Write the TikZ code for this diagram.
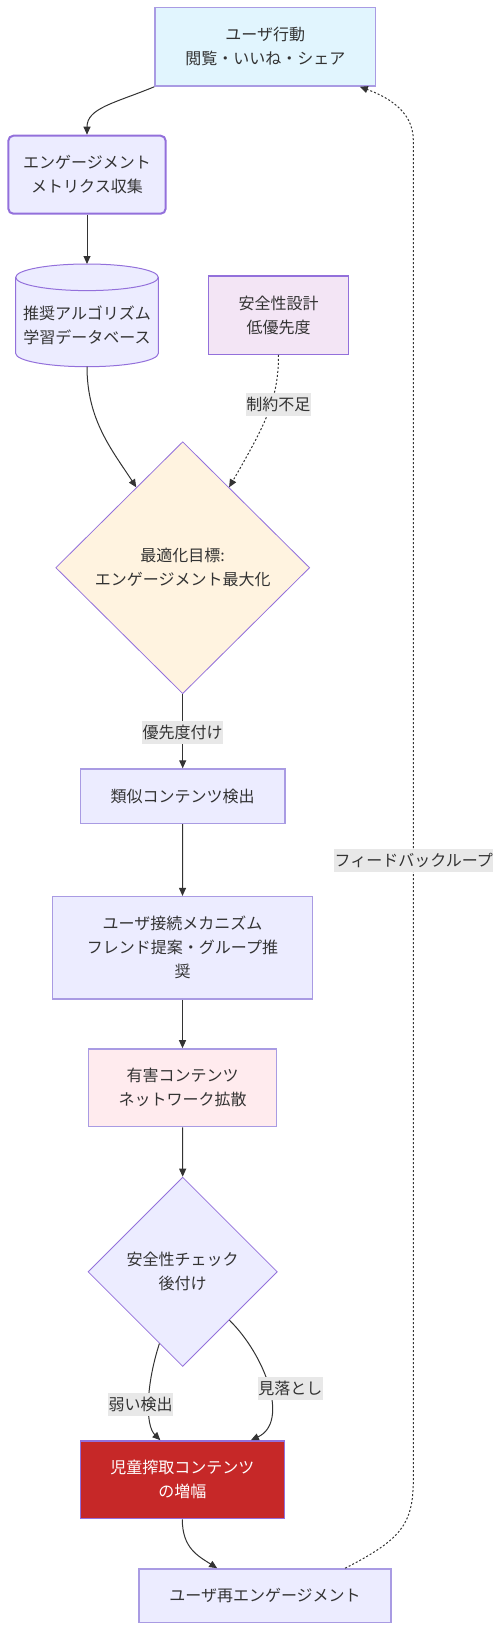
\documentclass[tikz,border=0pt]{standalone}
\usepackage{fontspec}
\setmainfont{Noto Sans CJK JP}
\usetikzlibrary{shapes.geometric,arrows.meta}
\definecolor{txt}{HTML}{333333}
\definecolor{edgec}{HTML}{333333}
\definecolor{bord}{HTML}{9370DB}
\definecolor{bordl}{HTML}{A99BE3}
\definecolor{lav}{HTML}{ECECFF}
\definecolor{cyanf}{HTML}{E1F5FE}
\definecolor{purf}{HTML}{F3E5F5}
\definecolor{orgf}{HTML}{FFF3E0}
\definecolor{pinkf}{HTML}{FFEBEE}
\definecolor{redf}{HTML}{C62828}
\definecolor{lblbg}{HTML}{E8E8E8}
\begin{document}
\begin{tikzpicture}[x=1pt,y=-1pt,
  font=\fontsize{16pt}{24pt}\selectfont,
  box/.style={rectangle, draw=bordl, line width=1.5pt, text=txt, align=center, inner sep=0pt},
  dia/.style={diamond, draw=bord, line width=0.8pt, text=txt, align=center, inner sep=0pt},
  edge/.style={draw=edgec, line width=1pt, -{Triangle[length=8pt,width=7pt]}},
  dotedge/.style={edge, dash pattern=on 2pt off 2pt},
  lbl/.style={fill=lblbg, text=txt, inner xsep=0.5pt, inner ysep=0pt, minimum height=23pt}]
\useasboundingbox (0,0) rectangle (502,1631);

% nodes
\node[box, fill=cyanf, minimum width=220.7pt, minimum height=78.7pt] (A) at (265.3,46.7) {ユーザ行動\\閲覧・いいね・シェア};
\node[box, fill=lav, draw=bord, line width=2pt, rounded corners=5pt, minimum width=157.3pt, minimum height=78pt] (B) at (87,174.7) {エンゲージメント\\メトリクス収集};

% cylinder
\fill[lav] (15.7,277.3) -- (15.7,353.4) arc (180:360:71.3pt and 13.3pt) -- (158.3,277.3) arc (0:180:71.3pt and 13.3pt) -- cycle;
\draw[bord, line width=1pt] (15.7,277.3) -- (15.7,353.4) arc (180:360:71.3pt and 13.3pt) -- (158.3,277.3) arc (0:180:71.3pt and 13.3pt) -- cycle;
\draw[bord, line width=1pt] (15.7,277.3) arc (180:360:71.3pt and 13.3pt);
\node[text=txt, align=center, inner sep=0pt] (C) at (87,325.8) {推奨アルゴリズム\\学習データベース};
\coordinate (Ctop) at (87,264);
\coordinate (Cbot) at (87,366.7);

\node[box, fill=purf, draw=bord, line width=1.2pt, minimum width=140.3pt, minimum height=78.3pt] (D) at (278.5,315.2) {安全性設計\\低優先度};
\node[dia, fill=orgf, minimum width=254pt, minimum height=252pt] (E) at (182.7,567.7) {最適化目標:\\エンゲージメント最大化};
\node[box, fill=lav, minimum width=204.7pt, minimum height=54.3pt] (F) at (182.7,796.2) {類似コンテンツ検出};
\node[box, fill=lav, minimum width=260.3pt, minimum height=102.3pt] (G) at (182.5,947.8) {ユーザ接続メカニズム\\フレンド提案・グループ推\\奨};
\node[box, fill=pinkf, minimum width=188.3pt, minimum height=77.7pt] (H) at (182.5,1087.8) {有害コンテンツ\\ネットワーク拡散};
\node[dia, fill=lav, minimum width=189.4pt, minimum height=189.4pt] (I) at (182.7,1271.8) {安全性チェック\\後付け};
\node[box, fill=redf, draw=bord, text=white, minimum width=204pt, minimum height=77.7pt] (J) at (182.3,1479.8) {児童搾取コンテンツ\\の増幅};
\node[box, fill=lav, minimum width=252pt, minimum height=53.7pt] (K) at (265,1595.8) {ユーザ再エンゲージメント};

% edges
\draw[edge] (A.south west) .. controls (115,103) and (87,108) .. (B.north);
\draw[edge] (B.south) -- (Ctop);
\draw[edge] (Cbot) .. controls (87,420) and (112,450) .. (E.120);
\draw[dotedge] (D.south) .. controls (278.5,400) and (265,425) .. (E.60);
\draw[edge] (E.south) -- (F.north);
\draw[edge] (F.south) -- (G.north);
\draw[edge] (G.south) -- (H.north);
\draw[edge] (H.south) -- (I.north);
\draw[edge] (I.252) .. controls (146,1385) and (145,1425) .. (J.119);
\draw[edge] (I.314) .. controls (265,1355) and (290,1422) .. (J.30);
\draw[edge] (J.south) .. controls (182.3,1548) and (198,1556) .. (K.150);
\draw[dotedge] (K.19) .. controls (400,1540) and (413.3,1525) .. (413.3,1480) -- (413.3,140) .. controls (413.3,110) and (385,96) .. (A.337.5);

% labels
\node[lbl] (l1) at (278.3,404) {制約不足};
\node[lbl] (l2) at (182.7,732) {優先度付け};
\node[lbl] (l3) at (413.7,860.2) {フィードバックループ};
\node[lbl] (l4) at (140.7,1404.2) {弱い検出};
\node[lbl] (l5) at (290.3,1388.7) {見落とし};
\end{tikzpicture}
\end{document}
